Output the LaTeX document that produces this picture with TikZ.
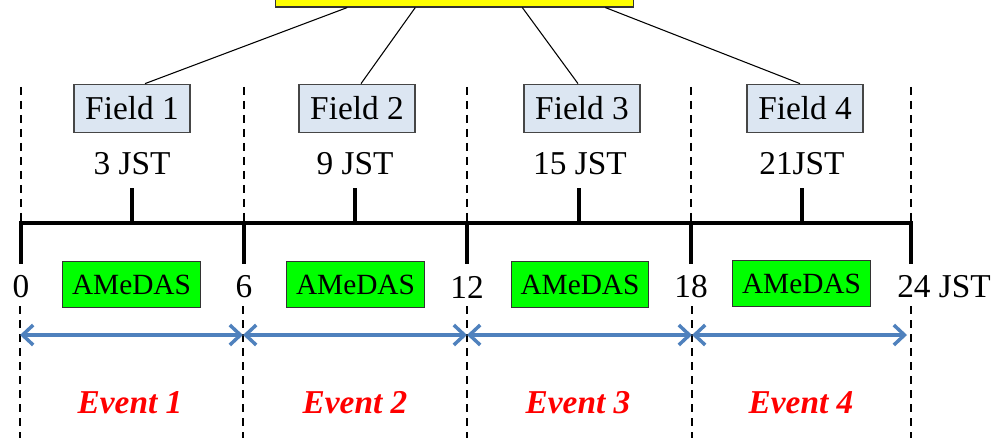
\documentclass[tikz,border=0pt]{standalone}
\usepackage{fontspec}
\setmainfont{Liberation Serif}
\usetikzlibrary{arrows.meta, positioning, calc}
\definecolor{fieldbg}{RGB}{220, 230, 242}
\definecolor{fieldline}{RGB}{70, 70, 70}
\definecolor{amedasgreen}{RGB}{0, 255, 0}
\definecolor{arrowblue}{RGB}{79, 129, 189}
\definecolor{headyellow}{RGB}{255, 255, 0}

\begin{document}
\begin{tikzpicture}[
    x=0.75pt, y=-0.75pt,
    every node/.style={font=\fontsize{25}{28}\selectfont, inner sep=0pt, align=center},
    fieldbox/.style={draw=fieldline, fill=fieldbg, minimum width=87pt, minimum height=36.5pt, line width=0.8pt},
    amedasbox/.style={draw=black!80, fill=amedasgreen, minimum width=103pt, minimum height=34pt, line width=0.8pt, font=\fontsize{22}{24}\selectfont},
    eventlabel/.style={text=red, font=\fontsize{25}{28}\selectfont\bfseries\itshape},
    timeline/.style={line width=3pt, line cap=rect},
    divider/.style={dashed, dash pattern=on 6pt off 4.5pt, line width=1.6pt},
    span/.style={{Straight Barb[length=8pt, width=15pt]}-{Straight Barb[length=8pt, width=15pt]}, line width=2.6pt, color=arrowblue}
]
\useasboundingbox (0,0) rectangle (1005,438);

% Header box (cut by the page edge)
\node[draw=black!80, fill=headyellow, minimum width=268pt, minimum height=40.5pt, line width=0.8pt] (head) at (454.5,-20) {};

% Dashed dividers
\draw[divider] (21,87) -- (21,223);   \draw[divider] (20,306) -- (20,438);
\draw[divider] (244,87) -- (244,223); \draw[divider] (243,306) -- (243,438);
\draw[divider] (467,87) -- (467,223); \draw[divider] (467,306) -- (467,438);
\draw[divider] (691,87) -- (691,223); \draw[divider] (692,306) -- (692,438);
\draw[divider] (911,87) -- (911,223); \draw[divider] (911,306) -- (911,438);

% Field boxes
\node[fieldbox] (f1) at (132,108.5) {Field 1};
\node[fieldbox] (f2) at (357,108.5) {Field 2};
\node[fieldbox] (f3) at (582,108.5) {Field 3};
\node[fieldbox] (f4) at (805,108.5) {Field 4};

% Links from header to fields
\draw[line width=0.8pt] ($(head.south west)+(72,0)$) -- ($(f1.north)+(13,0)$);
\draw[line width=0.8pt] ($(head.south west)+(140,0)$) -- ($(f2.north)+(4,0)$);
\draw[line width=0.8pt] ($(head.south west)+(247,0)$) -- ($(f3.north)+(-4,0)$);
\draw[line width=0.8pt] ($(head.south west)+(330,0)$) -- ($(f4.north)+(-5,0)$);

% Observation times
\node (jst1) at (132,164) {3 JST};
\node (jst2) at (355,164) {9 JST};
\node (jst3) at (580,164) {15 JST};
\node (jst4) at (802,164) {21JST};

% Time axis
\coordinate (t0) at (21,223);
\coordinate (t1) at (244,223);
\coordinate (t2) at (467,223);
\coordinate (t3) at (691,223);
\coordinate (t4) at (911,223);
\draw[timeline] (t0) -- (t4);
\draw[timeline] (t0) -- ++(0,39);
\draw[timeline] (t1) -- ++(0,39);
\draw[timeline] (t2) -- ++(0,39);
\draw[timeline] (t3) -- ++(0,39);
\draw[timeline] (t4) -- ++(0,39);
\draw[timeline] (132,223) -- (132,190);
\draw[timeline] (355,223) -- (355,190);
\draw[timeline] (579,223) -- (579,190);
\draw[timeline] (802,223) -- (802,190);

% Hour labels
\node (h0) at (21,287) {0};
\node (h6) at (244,287) {6};
\node (h12) at (467,287) {12};
\node (h18) at (691,287) {18};
\node[anchor=west] (h24) at (897,287) {24 JST};

% AMeDAS boxes
\node[amedasbox] (am1) at (131.5,284.5) {AMeDAS};
\node[amedasbox] (am2) at (355.5,284.5) {AMeDAS};
\node[amedasbox] (am3) at (580,284.5) {AMeDAS};
\node[amedasbox] (am4) at (801.5,283.5) {AMeDAS};

% Event spans
\coordinate (e0) at (20,335);
\coordinate (e1) at (243,335);
\coordinate (e2) at (467,335);
\coordinate (e3) at (692,335);
\coordinate (e4) at (907,335);
\draw[span] (e0) -- (e1);
\draw[span] (e1) -- (e2);
\draw[span] (e2) -- (e3);
\draw[span] (e3) -- (e4);

% Event labels
\node[eventlabel] (ev1) at (130,403) {Event 1};
\node[eventlabel] (ev2) at (355,403) {Event 2};
\node[eventlabel] (ev3) at (578,403) {Event 3};
\node[eventlabel] (ev4) at (801,403) {Event 4};

\end{tikzpicture}
\end{document}
